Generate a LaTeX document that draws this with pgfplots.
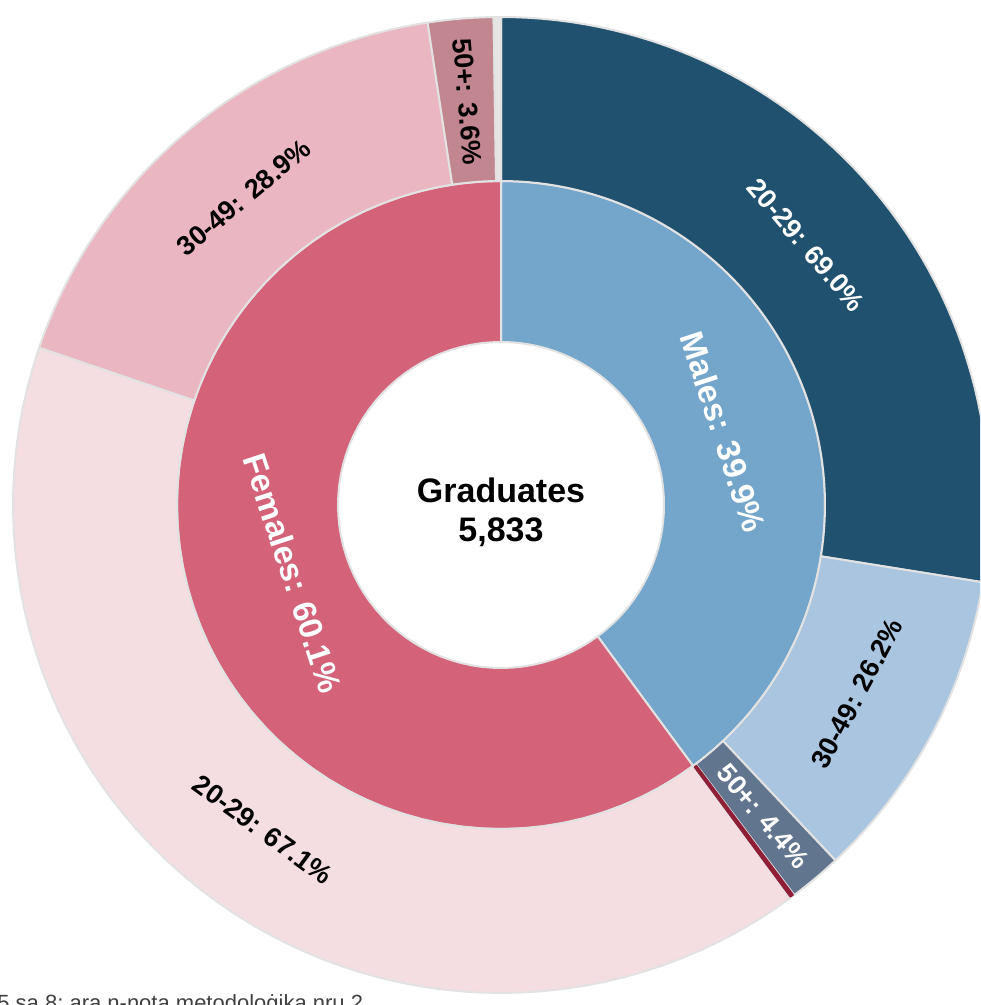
\documentclass[border=0pt]{standalone}
\usepackage{pgfplots}
\pgfplotsset{compat=1.18}
\usepackage{fontspec}
\setmainfont{Liberation Sans}
\definecolor{bcol}{HTML}{E2E2E2}
\definecolor{mIn}{HTML}{74A5CA}
\definecolor{mA}{HTML}{20526F}
\definecolor{mB}{HTML}{A9C5DF}
\definecolor{mC}{HTML}{62758F}
\definecolor{mD}{HTML}{8E1F37}
\definecolor{fIn}{HTML}{D4637A}
\definecolor{fA}{HTML}{F5DEE2}
\definecolor{fB}{HTML}{EAB6C2}
\definecolor{fC}{HTML}{C28690}
\definecolor{fD}{HTML}{E6E6E6}
% shares of the whole (in %): start, end, inner radius, outer radius, colour, border colour
\newcommand{\ringseg}[6][bcol]{%
  \addplot[fill=#6, draw=#1, line width=1pt, line join=round, domain=0:3, samples=181, variable=\t]
  ({(#5-(#5-#4)*min(max(\t-1,0),1))*cos(90-3.6*((#2)+((#3)-(#2))*(min(\t,1)-max(\t-2,0))))},
   {(#5-(#5-#4)*min(max(\t-1,0),1))*sin(90-3.6*((#2)+((#3)-(#2))*(min(\t,1)-max(\t-2,0))))}) -- cycle;
}
% start, end, radius, text, colour, font size (pt), mode (0 radial, 1 tangential)
\newcommand{\seglabel}[7]{%
  \node[text=#5, font=\fontsize{#6}{#6}\selectfont\bfseries, inner sep=0pt,
        rotate={mod(90-1.8*((#1)+(#2))-90*#7+450,180)-90}]
    at (axis cs:{#3*cos(90-1.8*((#1)+(#2)))},{#3*sin(90-1.8*((#1)+(#2)))}) {#4};
}
\begin{document}
\begin{tikzpicture}
\path[use as bounding box, clip] (0,0) rectangle (490pt,502.5pt);
\begin{axis}[
  anchor=south west, at={(0,0)},
  scale only axis, width=490pt, height=502.5pt,
  xmin=-501, xmax=479, ymin=-500, ymax=505,
  hide axis, clip=true]
% values (%)
\def\Mt{39.9}\def\Ft{60.1}
\def\MA{69.0}\def\MB{26.2}\def\MC{4.4}
\def\FA{67.1}\def\FB{28.9}\def\FC{3.6}
% inner ring
\ringseg{0}{\Mt}{163}{324}{mIn}
\ringseg{\Mt}{100}{163}{324}{fIn}
% outer ring: males
\ringseg{0}{\Mt*\MA/100}{324}{488}{mA}
\ringseg{\Mt*\MA/100}{\Mt*(\MA+\MB)/100}{324}{488}{mB}
\ringseg{\Mt*(\MA+\MB)/100}{\Mt*(\MA+\MB+\MC)/100}{324}{488}{mC}
% outer ring: females
\ringseg{\Mt}{\Mt+\Ft*\FA/100}{324}{488}{fA}
\ringseg{\Mt+\Ft*\FA/100}{\Mt+\Ft*(\FA+\FB)/100}{324}{488}{fB}
\ringseg{\Mt+\Ft*(\FA+\FB)/100}{\Mt+\Ft*(\FA+\FB+\FC)/100}{324}{488}{fC}
\ringseg{\Mt+\Ft*(\FA+\FB+\FC)/100}{100}{324}{488}{fD}
% remaining males (thin sliver)
\ringseg[mD]{\Mt*(\MA+\MB+\MC)/100+0.03}{\Mt-0.03}{326}{487}{mD}
% labels
\seglabel{0}{\Mt}{234}{Males: 39.9\%}{white}{16.5}{1}
\seglabel{\Mt}{100}{219}{Females: 60.1\%}{white}{16.5}{1}
\seglabel{0}{\Mt*\MA/100}{401}{20-29: 69.0\%}{white}{13.5}{1}
\seglabel{\Mt*\MA/100}{\Mt*(\MA+\MB)/100}{403}{30-49: 26.2\%}{black}{13.5}{1}
\seglabel{\Mt*(\MA+\MB)/100}{\Mt*(\MA+\MB+\MC)/100}{407}{50+: 4.4\%}{white}{13.5}{0}
\seglabel{\Mt}{\Mt+\Ft*\FA/100}{403}{20-29: 67.1\%}{black}{13.5}{1}
\seglabel{\Mt+\Ft*\FA/100}{\Mt+\Ft*(\FA+\FB)/100}{401}{30-49: 28.9\%}{black}{13.5}{1}
\seglabel{\Mt+\Ft*(\FA+\FB)/100}{\Mt+\Ft*(\FA+\FB+\FC)/100}{405}{50+: 3.6\%}{black}{13.5}{0}
\node[align=center, font=\fontsize{17}{19.5}\selectfont\bfseries, inner sep=0pt] at (axis cs:0,-7) {Graduates\\5,833};
\node[anchor=base west, font=\fontsize{11}{13}\selectfont, text=black!75, inner sep=0pt] at (axis cs:-504,-505) {5 sa 8; ara n-nota metodoloġika nru 2};
\end{axis}
\end{tikzpicture}
\end{document}
